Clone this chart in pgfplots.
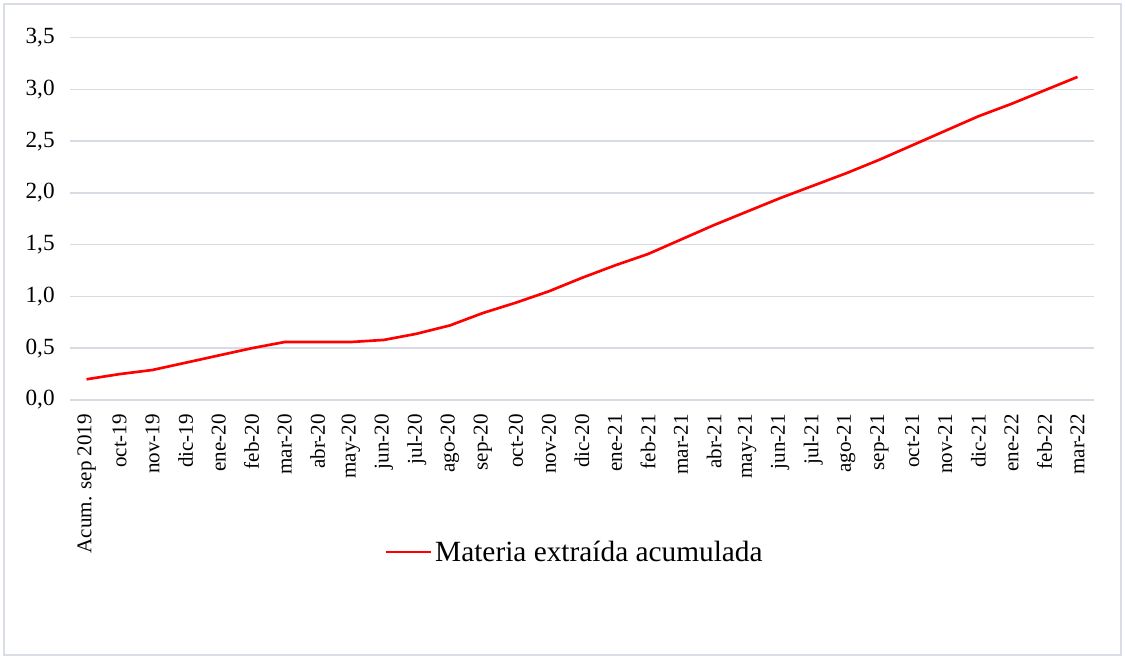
\documentclass[border=0pt]{standalone}
\usepackage{pgfplots}
\pgfplotsset{compat=1.18}
\usepackage{fontspec}
\setmainfont{Liberation Serif}
\definecolor{gridc}{RGB}{214,219,228}
\definecolor{framec}{RGB}{217,222,230}
\begin{document}
\begin{tikzpicture}
\useasboundingbox (0pt,0pt) rectangle (843.75pt,494.25pt);
\draw[framec, line width=1.2pt] (3pt,3pt) rectangle (840.75pt,491.25pt);
\begin{axis}[
  at={(52.5pt,194.25pt)}, anchor=south west,
  scale only axis,
  width=768pt, height=271.8pt,
  xmin=-0.5, xmax=30.5,
  ymin=0, ymax=3.5,
  ytick={0,0.5,...,3.5},
  xtick={0,...,30},
  xticklabels={Acum. sep 2019,oct-19,nov-19,dic-19,ene-20,feb-20,mar-20,abr-20,may-20,jun-20,jul-20,ago-20,sep-20,oct-20,nov-20,dic-20,ene-21,feb-21,mar-21,abr-21,may-21,jun-21,jul-21,ago-21,sep-21,oct-21,nov-21,dic-21,ene-22,feb-22,mar-22},
  x tick label style={rotate=90, anchor=east, font=\fontsize{15.8}{16}\selectfont, xshift=-7pt},
  y tick label style={font=\fontsize{17.4}{18}\selectfont, xshift=-8pt},
  /pgf/number format/.cd, fixed, fixed zerofill, precision=1, use comma, assume math mode=true,
  /pgfplots/.cd,
  axis line style={draw=none},
  major tick length=0pt,
  ymajorgrids, grid style={gridc, line width=1.1pt},
  legend style={at={(axis description cs:0.493,-0.419)}, anchor=center, draw=none, fill=none,
    font=\fontsize{22}{24}\selectfont, legend cell align=left},
  legend image code/.code={\draw[#1] (0cm,0cm) -- (1.2cm,0cm);},
  clip=false,
]
\addplot[red, line width=2pt] coordinates {
(0,0.20) (1,0.25) (2,0.29) (3,0.36) (4,0.43) (5,0.50) (6,0.56) (7,0.56) (8,0.56) (9,0.58)
(10,0.64) (11,0.72) (12,0.84) (13,0.94) (14,1.05) (15,1.18) (16,1.30) (17,1.41) (18,1.55) (19,1.69)
(20,1.82) (21,1.95) (22,2.07) (23,2.19) (24,2.32) (25,2.46) (26,2.60) (27,2.74) (28,2.86) (29,2.99) (30,3.12)
};
\addlegendentry{Materia extraída acumulada}
\end{axis}
\end{tikzpicture}
\end{document}
